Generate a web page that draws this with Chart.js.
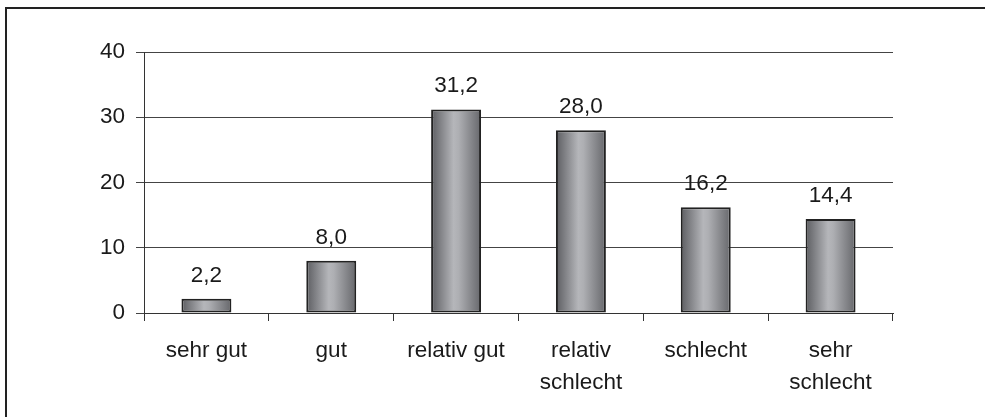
<!DOCTYPE html>
<html>
<head>
<meta charset="utf-8">
<script src="https://cdn.jsdelivr.net/npm/chart.js@4/dist/chart.umd.min.js"></script>
<style>
  html, body { margin: 0; padding: 0; background: #fff; overflow: hidden; }
  #wrap { position: relative; width: 985px; height: 417px; }
  #frame { position: absolute; left: 5px; top: 7px; width: 2000px; height: 2000px;
           border-left: 2px solid #222; border-top: 2px solid #222; box-sizing: border-box; }
  canvas { position: absolute; left: 0; top: 0; }
</style>
</head>
<body>
<div id="wrap">
  <div id="frame"></div>
  <canvas id="c" width="985" height="417"></canvas>
</div>
<script>
const categories = ['sehr gut', 'gut', 'relativ gut', ['relativ', 'schlecht'], 'schlecht', ['sehr', 'schlecht']];
const values = [2.2, 8.0, 31.2, 28.0, 16.2, 14.4];
const yTicks = [0, 10, 20, 30, 40];

const FONT = { family: 'Arial, "Liberation Sans", sans-serif', size: 22.5 };
const XFONT = { family: 'Arial, "Liberation Sans", sans-serif', size: 22.5, lineHeight: 1.42 };
const TEXT = '#1a1a1a';
const BAR_PCT = 0.4;

function barGradient(ctx) {
  const chart = ctx.chart;
  const xs = chart.scales && chart.scales.x;
  if (!xs || !isFinite(xs.width) || xs.width <= 0) return '#8e8f93';
  const cx = xs.getPixelForValue(ctx.dataIndex);
  const w = xs.width / categories.length * BAR_PCT;
  if (!isFinite(cx)) return '#8e8f93';
  const g = chart.ctx.createLinearGradient(cx - w / 2, 0, cx + w / 2, 0);
  g.addColorStop(0, '#5c5d61');
  g.addColorStop(0.45, '#b5b6ba');
  g.addColorStop(0.55, '#aeafb3');
  g.addColorStop(1, '#66676b');
  return g;
}

const valueLabels = {
  id: 'valueLabels',
  afterDatasetsDraw(chart) {
    const c = chart.ctx;
    const meta = chart.getDatasetMeta(0);
    c.save();
    c.font = FONT.size + 'px ' + FONT.family;
    c.fillStyle = TEXT;
    c.textAlign = 'center';
    c.textBaseline = 'alphabetic';
    meta.data.forEach((bar, i) => {
      const txt = values[i].toFixed(1).replace('.', ',');
      c.fillText(txt, bar.x, bar.y - 17);
    });
    c.restore();
  }
};

new Chart(document.getElementById('c'), {
  type: 'bar',
  data: {
    labels: categories,
    datasets: [{
      data: values,
      backgroundColor: barGradient,
      borderColor: '#222',
      borderWidth: 2,
      borderSkipped: false,
      barPercentage: BAR_PCT,
      categoryPercentage: 1.0
    }]
  },
  options: {
    responsive: false,
    animation: false,
    events: [],
    layout: { padding: { left: 0, right: 92, top: 52, bottom: 0 } },
    plugins: { legend: { display: false }, tooltip: { enabled: false } },
    scales: {
      x: {
        offset: true,
        grid: { display: true, drawOnChartArea: false, drawTicks: true, tickLength: 8, color: '#333', lineWidth: 1, offset: true },
        border: { display: true, color: '#333', width: 1 },
        ticks: { color: TEXT, font: XFONT, padding: 14, maxRotation: 0, autoSkip: false },
        afterFit(scale) { scale.height = 104; }
      },
      y: {
        min: 0, max: 40,
        afterBuildTicks(scale) { scale.ticks = yTicks.map(v => ({ value: v })); },
        grid: { color: '#444', lineWidth: 1, drawTicks: true, tickLength: 8 },
        border: { display: true, color: '#333', width: 1 },
        ticks: { color: TEXT, font: FONT, padding: 11 },
        afterFit(scale) { scale.width = 144; }
      }
    }
  },
  plugins: [valueLabels]
});
</script>
</body>
</html>
